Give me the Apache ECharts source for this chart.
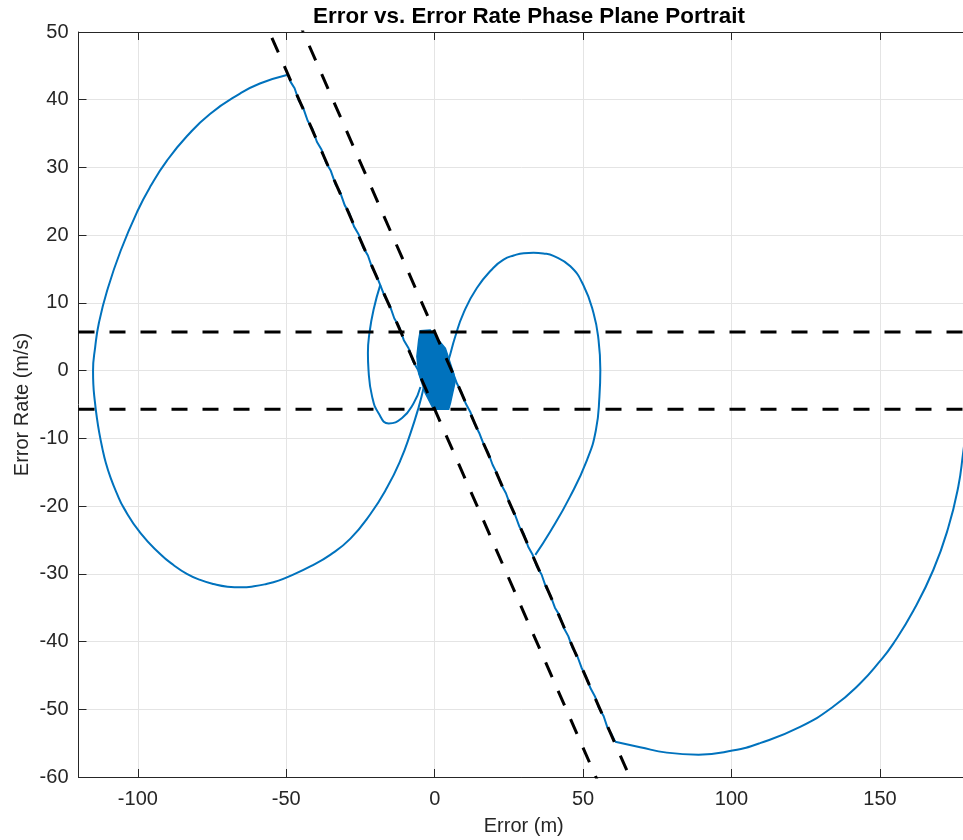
<!DOCTYPE html>
<html>
<head>
<meta charset="utf-8">
<script src="https://cdn.jsdelivr.net/npm/echarts@6/dist/echarts.min.js"></script>
<style>
  html, body { margin: 0; padding: 0; background: #ffffff; }
  #chart { width: 963px; height: 840px; }
</style>
</head>
<body>
<div id="chart"></div>
<script>
// Axis extents and tick positions
const xRange = [-120, 180];
const yRange = [-60, 50];
const xTickValues = [-100, -50, 0, 50, 100, 150];
const yTickStep = 10;

// Sliding surface s = e_dot + lambda*e, boundary layer |s| <= phi
const lambda = 1;
const phi = 5.7;

// Large arc arriving from the right, reaching the upper boundary line
const rightArc = [
  [180.6, -3.0], [179.5, -7.0], [178.0, -12.2], [176.4, -17.1], [173.0, -23.2],
  [168.0, -29.4], [161.2, -35.5], [154.5, -40.3], [150.0, -42.9], [143.3, -46.2],
  [134.3, -49.6], [123.1, -52.6], [109.6, -55.0], [100.3, -56.1], [88.9, -56.7],
  [78.2, -56.4], [69.2, -55.6], [60.8, -54.8]
];

// Sliding along s = +phi toward the origin
const slideUpper = [
  [60.8, -54.8], [59.6, -53.7], [58.2, -52.7], [56.9, -51.0], [55.4, -49.9],
  [54.0, -48.1], [52.5, -46.9], [51.0, -45.2], [49.5, -43.9], [48.0, -42.1],
  [46.5, -41.0], [45.0, -39.2], [43.5, -38.0], [42.0, -36.1], [40.5, -35.0],
  [39.0, -33.2], [37.5, -32.0], [36.0, -30.1], [34.5, -29.0], [33.0, -27.2],
  [31.5, -26.0], [30.0, -24.1], [28.5, -23.0], [27.0, -21.2], [25.5, -19.9],
  [24.0, -18.1], [22.5, -16.9], [21.0, -15.2], [19.5, -13.9], [18.0, -12.1],
  [16.5, -10.9], [15.0, -9.2], [13.5, -7.9], [12.0, -6.1], [10.5, -4.9],
  [9.0, -3.2], [7.5, -1.9], [6.2, -0.4]
];

// Loop on the right of the origin
const rightLoop = [
  [3.0, -0.6], [4.7, 1.6], [6.9, 5.0], [9.7, 8.5], [14.2, 12.2], [19.8, 15.2],
  [23.2, 16.4], [26.6, 17.0], [30.0, 17.35], [33.3, 17.4], [36.6, 17.3],
  [40.0, 16.95], [45.7, 15.4], [50.1, 12.6], [53.5, 8.5], [55.2, 4.5],
  [55.8, 0.1], [55.5, -3.8], [54.3, -8.8], [51.3, -13.2], [45.6, -18.6],
  [38.9, -23.8], [33.9, -27.2]
];

// Large loop on the left, ending on the lower boundary line
const leftArc = [
  [-3.7, -2.5], [-5.4, -5.4], [-8.2, -9.3], [-11.6, -13.3], [-16.1, -17.3],
  [-21.7, -21.2], [-28.4, -24.8], [-35.2, -27.2], [-41.9, -28.9], [-48.6, -30.3],
  [-52.6, -31.0], [-56.7, -31.5], [-60.9, -31.85], [-65.1, -32.0], [-69.8, -31.9],
  [-74.6, -31.5], [-79.0, -30.9], [-83.5, -30.0], [-88.0, -28.7], [-92.4, -27.1],
  [-99.1, -24.0], [-104.7, -20.3], [-107.2, -18.0], [-109.2, -15.8], [-110.8, -13.6],
  [-112.0, -11.4], [-113.0, -9.2], [-113.8, -7.0], [-114.5, -4.5], [-115.0, -2.0],
  [-115.1, 0.0], [-114.4, 3.4], [-113.1, 7.1], [-110.3, 11.9], [-105.8, 17.7],
  [-100.2, 23.5], [-95.5, 27.4], [-90.2, 31.0], [-83.5, 34.6], [-75.7, 37.9],
  [-65.6, 40.9], [-58.9, 42.4], [-49.5, 43.7]
];

// Sliding along s = -phi toward the origin
const slideLower = [
  [-49.5, 43.7], [-48.5, 42.6], [-47.2, 41.7], [-45.8, 39.9], [-44.3, 38.8],
  [-42.8, 36.9], [-41.2, 35.7], [-39.7, 33.8], [-38.1, 32.6], [-36.6, 30.7],
  [-35.0, 29.5], [-33.4, 27.5], [-31.9, 26.4], [-30.3, 24.4], [-28.8, 23.3],
  [-27.2, 21.3], [-25.6, 20.1], [-24.1, 18.2], [-22.5, 17.0], [-21.0, 15.1],
  [-19.6, 14.0], [-18.3, 12.6], [-16.8, 10.9], [-15.2, 9.7], [-13.6, 7.7],
  [-12.0, 6.5], [-10.4, 4.5], [-8.8, 3.3], [-7.2, 1.3], [-5.6, 0.1], [-4.6, -1.1]
];

// Small loop leaving the lower boundary line
const smallLoop = [
  [-18.3, 12.7], [-20.6, 9.0], [-22.0, 5.5], [-22.5, 2.6], [-22.3, 0.1],
  [-21.1, -3.8], [-18.9, -6.3], [-15.5, -7.8], [-11.0, -7.0], [-7.1, -4.8],
  [-4.8, -2.4]
];

// Region covered by chattering around the origin
const chatterHull = [
  [-4.85, 5.9], [-1.5, 6.0], [3.6, 3.3], [6.4, -0.4], [6.9, -1.6], [5.3, -4.8],
  [4.7, -5.7], [-0.4, -5.7], [-3.2, -3.3], [-5.4, -0.4], [-6.0, 2.1], [-5.4, 4.5]
];

const trajColor = '#0072BD';
const inkColor = '#262626';
const gridColor = '#e4e4e4';
const fontFamily = '"Liberation Sans", Arial, Helvetica, sans-serif';

// Boundary lines built from lambda and phi
const surfaceLine = (offset) => [
  [-80, -lambda * -80 + offset],
  [90, -lambda * 90 + offset]
];
const boundaryLines = [
  [[xRange[0], phi], [xRange[1], phi]],
  [[xRange[0], -phi], [xRange[1], -phi]],
  surfaceLine(-phi),
  surfaceLine(phi)
];

const trajSeries = (data, smooth) => ({
  type: 'line',
  data: data,
  showSymbol: false,
  smooth: smooth,
  clip: true,
  z: 2,
  lineStyle: { color: trajColor, width: 2 },
  emphasis: { disabled: true }
});

const dashSeries = (data) => ({
  type: 'line',
  data: data,
  showSymbol: false,
  clip: true,
  z: 5,
  lineStyle: { color: '#000000', width: 3, type: [16, 15] },
  emphasis: { disabled: true }
});

const chart = echarts.init(document.getElementById('chart'), null, { renderer: 'canvas' });

chart.setOption({
  animation: false,
  backgroundColor: '#ffffff',
  graphic: [{
    type: 'text',
    x: 529,
    y: 6,
    style: {
      text: 'Error vs. Error Rate Phase Plane Portrait',
      font: 'bold 22.4px ' + fontFamily,
      fill: '#000000',
      textAlign: 'center',
      textVerticalAlign: 'top'
    }
  }],
  // the plot frame runs slightly past the right edge of the canvas
  grid: {
    left: 78.5, top: 32, width: 890.5, height: 745,
    containLabel: false,
    outerBoundsMode: 'none'
  },
  xAxis: [{
    type: 'value',
    min: xRange[0],
    max: xRange[1],
    name: 'Error (m)',
    nameLocation: 'middle',
    nameGap: 39,
    nameMoveOverlap: false,
    nameTextStyle: { fontSize: 20, color: inkColor, fontFamily: fontFamily },
    axisLine: { show: true, onZero: false, lineStyle: { color: inkColor, width: 1 } },
    axisTick: { show: true, inside: true, length: 8, customValues: xTickValues, lineStyle: { color: inkColor } },
    axisLabel: { customValues: xTickValues, margin: 12, fontSize: 20, color: inkColor, fontFamily: fontFamily },
    splitLine: { show: true, lineStyle: { color: gridColor, width: 1 } }
  }, {
    type: 'value',
    position: 'top',
    min: xRange[0],
    max: xRange[1],
    axisLine: { show: true, onZero: false, lineStyle: { color: inkColor, width: 1 } },
    axisTick: { show: true, inside: true, length: 8, customValues: xTickValues, lineStyle: { color: inkColor } },
    axisLabel: { show: false },
    splitLine: { show: false }
  }],
  yAxis: [{
    type: 'value',
    min: yRange[0],
    max: yRange[1],
    interval: yTickStep,
    name: 'Error Rate (m/s)',
    nameLocation: 'middle',
    nameGap: 46,
    nameMoveOverlap: false,
    nameTextStyle: { fontSize: 20, color: inkColor, fontFamily: fontFamily },
    axisLine: { show: true, onZero: false, lineStyle: { color: inkColor, width: 1 } },
    axisTick: { show: true, inside: true, length: 8, lineStyle: { color: inkColor } },
    axisLabel: { margin: 10, fontSize: 20, color: inkColor, fontFamily: fontFamily },
    splitLine: { show: true, lineStyle: { color: gridColor, width: 1 } }
  }],
  series: [
    trajSeries(rightArc, 0.5),
    trajSeries(slideUpper, false),
    trajSeries(rightLoop, 0.5),
    trajSeries(leftArc, 0.5),
    trajSeries(slideLower, false),
    trajSeries(smallLoop, 0.5),
    {
      type: 'custom',
      data: chatterHull,
      clip: true,
      z: 3,
      encode: { x: 0, y: 1 },
      renderItem: (params, api) => {
        if (params.dataIndex !== 0) return null;
        const points = chatterHull.map((p) => api.coord(p));
        return {
          type: 'polygon',
          shape: { points: points },
          style: { fill: trajColor, stroke: trajColor, lineWidth: 1.5 }
        };
      }
    },
    ...boundaryLines.map(dashSeries)
  ]
});
</script>
</body>
</html>
